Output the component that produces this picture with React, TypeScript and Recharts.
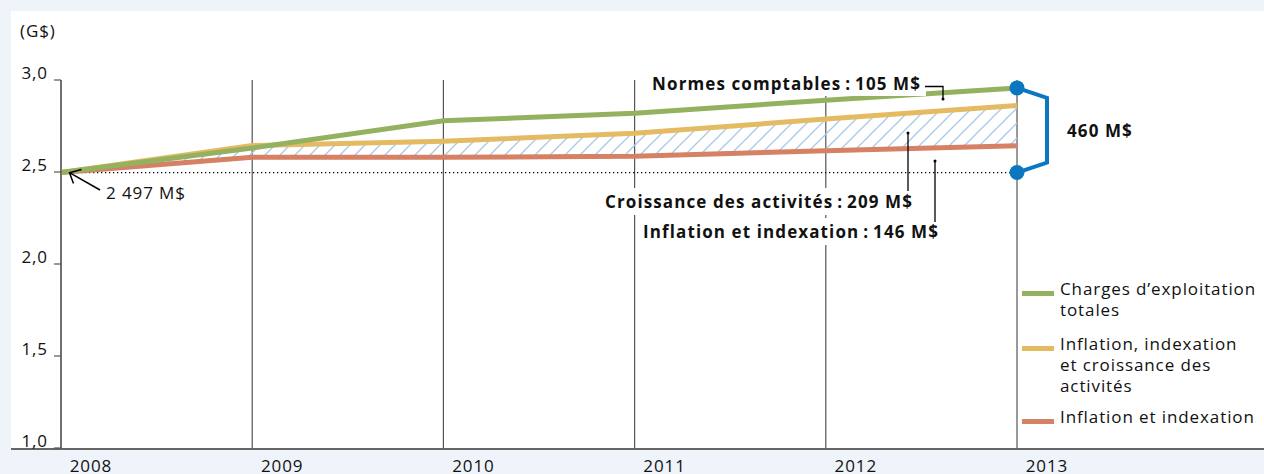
import React from "react";
import {
  ComposedChart,
  Line,
  Area,
  XAxis,
  YAxis,
  CartesianGrid,
  ReferenceLine,
  ReferenceDot,
  Legend,
} from "recharts";

// ---- Data ----
const years = [2008, 2009, 2010, 2011, 2012, 2013];
const totalCharges = [2.497, 2.63, 2.778, 2.819, 2.89, 2.957];
const inflationGrowth = [2.497, 2.644, 2.667, 2.71, 2.788, 2.862];
const inflationIndex = [2.497, 2.58, 2.58, 2.586, 2.616, 2.643];
const yTicks = [1.0, 1.5, 2.0, 2.5, 3.0];
const baseValue = 2.497;
const totalIncrease = 0.46;

const seriesNames = [
  ["Charges d\u2019exploitation", "totales"],
  ["Inflation, indexation", "et croissance des", "activit\u00e9s"],
  ["Inflation et indexation"],
];
const annotationTexts = [
  "Normes comptables\u2009:\u2009105 M$",
  "Croissance des activit\u00e9s\u2009:\u2009209 M$",
  "Inflation et indexation\u2009:\u2009146 M$",
];
const baseLabel = "2\u00a0497 M$";
const bracketLabel = "460 M$";
const unitLabel = "(G$)";

const COLORS = {
  green: "#93b15e",
  orange: "#e4bb62",
  red: "#d68064",
  blue: "#0a77c0",
  hatch: "#a9c9e8",
  bg: "#eef4f9",
  grid: "#555555",
  text: "#111111",
};
const FONT = "'Open Sans', sans-serif";
const FS = 17;
const LS = 0.9;
const LSB = 1.1;

const data = years.map((y, i) => ({
  year: y,
  total: totalCharges[i],
  growth: inflationGrowth[i],
  infl: inflationIndex[i],
  band: [inflationIndex[i], inflationGrowth[i]],
}));

const fmt = (v: number) => v.toFixed(1).replace(".", ",");

const YTick = (props: any) => {
  const { x, y, payload } = props;
  return (
    <text
      x={x - 6}
      y={y - 8}
      textAnchor="end"
      dominantBaseline="central"
      fontFamily={FONT}
      fontSize={FS}
      letterSpacing={LS}
      fill={COLORS.text}
    >
      {fmt(payload.value)}
    </text>
  );
};

const XTick = (props: any) => {
  const { x, y, payload } = props;
  return (
    <text
      x={x + 30}
      y={y + 17}
      textAnchor="middle"
      dominantBaseline="central"
      fontFamily={FONT}
      fontSize={FS}
      letterSpacing={LS}
      fill={COLORS.text}
    >
      {payload.value}
    </text>
  );
};

const Bracket = (props: any) => {
  const { x1, y1, x2, y2 } = props;
  if (x1 == null) return null;
  const bx = x1 + 30;
  return (
    <g>
      <path
        d={`M${x1},${y1} L${bx},${y1 + 10} L${bx},${y2 - 10} L${x2},${y2}`}
        fill="none"
        stroke={COLORS.blue}
        strokeWidth={4}
        strokeLinejoin="miter"
      />
      <text
        x={bx + 20}
        y={(y1 + y2) / 2}
        dominantBaseline="central"
        fontFamily={FONT}
        fontWeight={700}
        fontSize={FS}
        letterSpacing={LSB}
        fill={COLORS.text}
      >
        {bracketLabel}
      </text>
    </g>
  );
};

const legendColors = [COLORS.green, COLORS.orange, COLORS.red];
const legendTops = [278, 333, 406];

const LegendContent = () => (
  <div style={{ position: "relative", width: 240, height: 160, fontFamily: FONT }}>
    {seriesNames.map((lines, i) => (
      <div
        key={i}
        style={{ position: "absolute", left: 0, top: legendTops[i] - 276, width: 240 }}
      >
        <div
          style={{
            position: "absolute",
            left: 0,
            top: 13,
            width: 32,
            height: 5,
            background: legendColors[i],
          }}
        />
        <div
          style={{
            position: "absolute",
            left: 38,
            top: 0,
            fontSize: FS,
            letterSpacing: LS,
            lineHeight: "21px",
            color: COLORS.text,
            whiteSpace: "nowrap",
          }}
        >
          {lines.map((l, j) => (
            <div key={j}>{l}</div>
          ))}
        </div>
      </div>
    ))}
  </div>
);

const Overlay = () => (
  <svg
    width={1264}
    height={474}
    style={{ position: "absolute", left: 0, top: 0, pointerEvents: "none" }}
  >
    <text x={20} y={30} dominantBaseline="central" fontFamily={FONT} fontSize={FS} letterSpacing={LS} fill={COLORS.text}>
      {unitLabel}
    </text>
    <line x1={100} y1={190} x2={69.5} y2={172.7} stroke="#000" strokeWidth={1.5} />
    <polyline points="81.5,169.5 69.5,172.7 73.5,183.5" fill="none" stroke="#000" strokeWidth={1.5} />
    <text x={106} y={192.5} dominantBaseline="central" fontFamily={FONT} fontSize={FS} letterSpacing={LS} fill={COLORS.text}>
      {baseLabel}
    </text>
    <rect x={646} y={70} width={280} height={26} fill="#fff" />
    <text x={921} y={83} textAnchor="end" dominantBaseline="central" fontFamily={FONT} fontWeight={700} fontSize={FS} letterSpacing={LSB} fill={COLORS.text}>
      {annotationTexts[0]}
    </text>
    <polyline points="925,86.5 943,86.5 943,99" fill="none" stroke="#000" strokeWidth={1.3} />
    <circle cx={943} cy={99} r={1.5} fill="#000" />
    <rect x={598} y={188} width={318} height={27} fill="#fff" />
    <text x={913} y={201.5} textAnchor="end" dominantBaseline="central" fontFamily={FONT} fontWeight={700} fontSize={FS} letterSpacing={LSB} fill={COLORS.text}>
      {annotationTexts[1]}
    </text>
    <line x1={908} y1={133} x2={908} y2={191} stroke="#000" strokeWidth={1.3} />
    <circle cx={908} cy={133} r={1.5} fill="#000" />
    <rect x={639} y={218} width={304} height={27} fill="#fff" />
    <text x={939} y={231.5} textAnchor="end" dominantBaseline="central" fontFamily={FONT} fontWeight={700} fontSize={FS} letterSpacing={LSB} fill={COLORS.text}>
      {annotationTexts[2]}
    </text>
    <line x1={935} y1={161} x2={935} y2={222} stroke="#000" strokeWidth={1.3} />
    <circle cx={935} cy={161} r={1.5} fill="#000" />
  </svg>
);

export default function App() {
  return (
    <div
      style={{
        position: "absolute",
        left: 0,
        top: 0,
        width: 1264,
        height: 474,
        background: COLORS.bg,
        overflow: "hidden",
      }}
    >
      <div
        style={{
          position: "absolute",
          left: 11,
          top: 11,
          width: 1253,
          height: 437,
          background: "#fff",
          borderBottom: "2px solid #666",
        }}
      />
      <ComposedChart
        width={1264}
        height={474}
        data={data}
        margin={{ top: 80, right: 247, bottom: 0, left: 0 }}
        style={{ position: "absolute", left: 0, top: 0 }}
      >
        <defs>
          <pattern id="hatch" patternUnits="userSpaceOnUse" width="15" height="15">
            <line x1="0" y1="15" x2="15" y2="0" stroke={COLORS.hatch} strokeWidth={1.3} />
            <line x1="-2" y1="2" x2="2" y2="-2" stroke={COLORS.hatch} strokeWidth={1.3} />
            <line x1="13" y1="17" x2="17" y2="13" stroke={COLORS.hatch} strokeWidth={1.3} />
          </pattern>
        </defs>
        <CartesianGrid horizontal={false} vertical={true} stroke={COLORS.grid} strokeWidth={1.2} />
        <XAxis
          dataKey="year"
          type="number"
          domain={[2008, 2013]}
          ticks={years}
          axisLine={false}
          tickLine={false}
          tickSize={0}
          tickMargin={0}
          height={26}
          tick={<XTick />}
          interval={0}
        />
        <YAxis
          type="number"
          domain={[1, 3]}
          ticks={yTicks}
          width={61}
          tickSize={7}
          tickMargin={0}
          axisLine={{ stroke: COLORS.grid, strokeWidth: 1.2 }}
          tickLine={{ stroke: COLORS.grid, strokeWidth: 1.2 }}
          tick={<YTick />}
          interval={0}
        />
        <ReferenceLine y={baseValue} stroke="#000" strokeWidth={1.2} strokeDasharray="1.3 2.7" />
        <Area
          type="linear"
          dataKey="band"
          fill="url(#hatch)"
          fillOpacity={1}
          stroke="none"
          isAnimationActive={false}
          activeDot={false}
        />
        <Line type="linear" dataKey="infl" stroke={COLORS.red} strokeWidth={5} dot={false} isAnimationActive={false} activeDot={false} />
        <Line type="linear" dataKey="growth" stroke={COLORS.orange} strokeWidth={5} dot={false} isAnimationActive={false} activeDot={false} />
        <Line type="linear" dataKey="total" stroke={COLORS.green} strokeWidth={5} dot={false} isAnimationActive={false} activeDot={false} />
        <ReferenceLine
          segment={[
            { x: 2013, y: baseValue + totalIncrease },
            { x: 2013, y: baseValue },
          ]}
          shape={<Bracket />}
          ifOverflow="visible"
        />
        <ReferenceDot x={2013} y={baseValue + totalIncrease} r={7.5} fill={COLORS.blue} stroke="none" ifOverflow="visible" />
        <ReferenceDot x={2013} y={baseValue} r={7.5} fill={COLORS.blue} stroke="none" ifOverflow="visible" />
        <Legend
          layout="horizontal"
          align="center"
          verticalAlign="middle"
          content={<LegendContent />}
          wrapperStyle={{ position: "absolute", left: 1022, top: 276, width: 240 }}
        />
      </ComposedChart>
      <Overlay />
    </div>
  );
}
